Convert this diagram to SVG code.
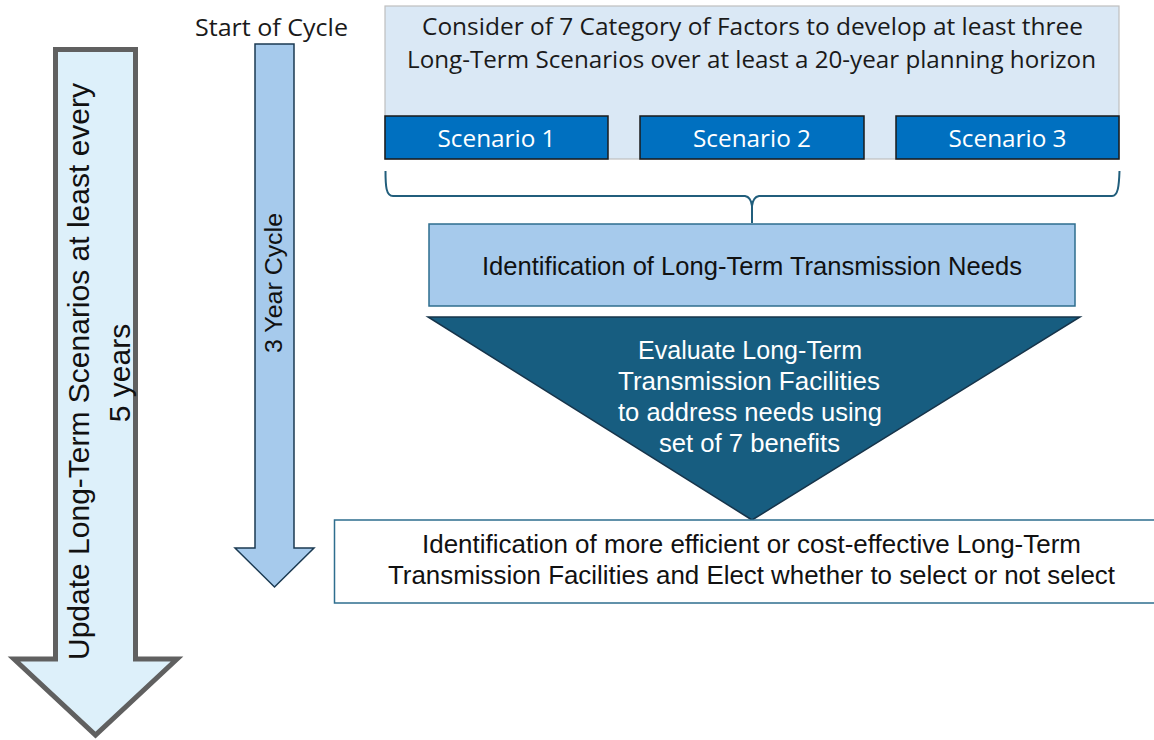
<svg xmlns="http://www.w3.org/2000/svg" width="1154" height="740" viewBox="0 0 1154 740">
<style>
.ap{font-family:"Open Sans","Liberation Sans",sans-serif;font-size:23px;fill:#1a1a1a}
.nr{font-family:"Liberation Sans",Arial,sans-serif;font-size:25px;fill:#111}
.ar{font-family:"Liberation Sans",Arial,sans-serif;fill:#111}
.w{fill:#ffffff}
.scen{fill:#0070C0;stroke:#1a1a1a;stroke-width:1.5}
</style>
<rect width="1154" height="740" fill="#ffffff"/>
<g id="update-arrow">
<polygon points="55.5,49.5 135.5,49.5 135.5,659 177,659 95.5,735 14,659 55.5,659" fill="#DDF0FA" stroke="#606060" stroke-width="5"/>
<text class="ar" font-size="30" text-anchor="middle" transform="translate(89,371.5) rotate(-90)" textLength="577" lengthAdjust="spacingAndGlyphs">Update Long-Term Scenarios at least every</text>
<text class="ar" font-size="30" text-anchor="middle" transform="translate(129.5,373) rotate(-90)">5 years</text>
</g>
<g id="start-label">
<text class="ap" x="195" y="36" textLength="153" lengthAdjust="spacingAndGlyphs">Start of Cycle</text>
</g>
<g id="cycle-arrow">
<polygon points="255,44 294,44 294,548 314,548 274.5,587 235,548 255,548" fill="#A6CAEC" stroke="#1B3A52" stroke-width="1.5"/>
<text class="ar" font-size="23.5" text-anchor="middle" transform="translate(282,283) rotate(-90)" textLength="140" lengthAdjust="spacingAndGlyphs">3 Year Cycle</text>
</g>
<g id="factors">
<rect x="385" y="6" width="734" height="153" fill="#DAE8F5" stroke="#BFBFBF" stroke-width="1.2"/>
<text class="ap" x="752.5" y="35" text-anchor="middle" textLength="661" lengthAdjust="spacingAndGlyphs">Consider of 7 Category of Factors to develop at least three</text>
<text class="ap" x="751.5" y="68" text-anchor="middle" textLength="689" lengthAdjust="spacingAndGlyphs">Long-Term Scenarios over at least a 20-year planning horizon</text>
</g>
<g id="scenario1">
<rect class="scen" x="385" y="116" width="223" height="43"/>
<text class="ap w" x="496.5" y="146.5" text-anchor="middle" textLength="118" lengthAdjust="spacingAndGlyphs">Scenario 1</text>
</g>
<g id="scenario2">
<rect class="scen" x="640" y="116" width="224" height="43"/>
<text class="ap w" x="752" y="146.5" text-anchor="middle" textLength="118" lengthAdjust="spacingAndGlyphs">Scenario 2</text>
</g>
<g id="scenario3">
<rect class="scen" x="896" y="116" width="223" height="43"/>
<text class="ap w" x="1007.5" y="146.5" text-anchor="middle" textLength="118" lengthAdjust="spacingAndGlyphs">Scenario 3</text>
</g>
<g id="connectors">
<path d="M385.5,171 C385.5,186 386,196 393,196 L745,196 Q751,197 752,206 L752,223 M752,206 Q753,197 759,196 L1112,196 C1118,196 1119,186 1119.5,171" fill="none" stroke="#215E7C" stroke-width="2"/>
</g>
<g id="needs">
<rect x="429" y="224" width="646" height="82" fill="#A6CAEC" stroke="#2E6E8E" stroke-width="1.5"/>
<text class="nr" x="752" y="275" text-anchor="middle" textLength="540" lengthAdjust="spacingAndGlyphs">Identification of Long-Term Transmission Needs</text>
</g>
<g id="evaluate">
<polygon points="428,317 1080,317 752,520" fill="#175D80" stroke="#16344A" stroke-width="1.5"/>
<text class="nr w" x="750" y="359" text-anchor="middle" textLength="224" lengthAdjust="spacingAndGlyphs">Evaluate Long-Term</text>
<text class="nr w" x="749" y="390" text-anchor="middle" textLength="262" lengthAdjust="spacingAndGlyphs">Transmission Facilities</text>
<text class="nr w" x="750" y="421" text-anchor="middle" textLength="264" lengthAdjust="spacingAndGlyphs">to address needs using</text>
<text class="nr w" x="749.5" y="452" text-anchor="middle" textLength="181" lengthAdjust="spacingAndGlyphs">set of 7 benefits</text>
</g>
<g id="selection">
<rect x="334.5" y="520" width="840" height="83" fill="#ffffff" stroke="#2E6E8E" stroke-width="1.5"/>
<text class="nr" x="751.5" y="553" text-anchor="middle" textLength="659" lengthAdjust="spacingAndGlyphs">Identification of more efficient or cost-effective Long-Term</text>
<text class="nr" x="751.5" y="584" text-anchor="middle" textLength="727" lengthAdjust="spacingAndGlyphs">Transmission Facilities and Elect whether to select or not select</text>
</g>
</svg>
